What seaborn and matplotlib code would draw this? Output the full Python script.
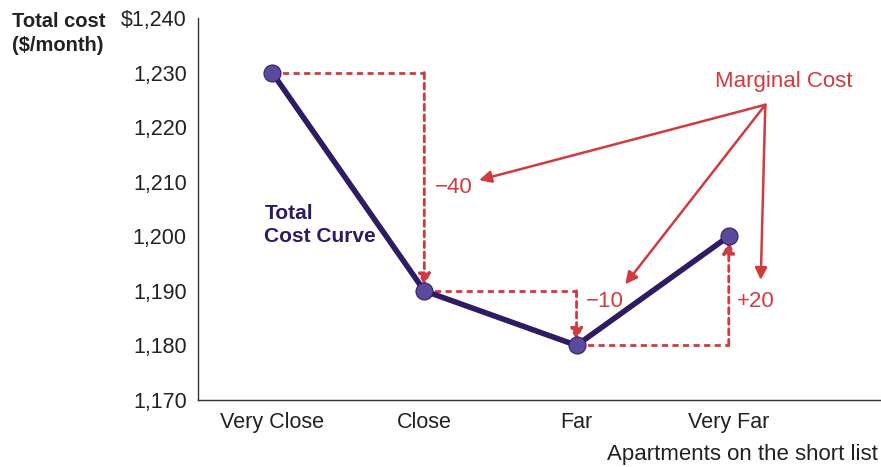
import pandas as pd
import matplotlib.pyplot as plt
import seaborn as sns

# data
locations = ["Very Close", "Close", "Far", "Very Far"]
total_cost = [1230, 1190, 1180, 1200]
marginal_labels = ["\u221240", "\u221210", "+20"]

df = pd.DataFrame({"loc": locations, "cost": total_cost})
df["x"] = range(len(df))

sns.set_style("white")
plt.rcParams["font.family"] = ["Liberation Sans", "DejaVu Sans"]

red = "#d23a40"
purple = "#2f1b63"
fs = 15.5

fig = plt.figure(figsize=(8.81, 4.67), dpi=100)
ax = fig.add_axes([0.2247, 0.1435, 0.7753, 0.818])

# dashed step lines (marginal cost)
for i in range(len(total_cost) - 1):
    x0, x1 = df["x"][i], df["x"][i + 1]
    y0, y1 = total_cost[i], total_cost[i + 1]
    ax.plot([x0, x1], [y0, y0], color=red, ls=(0, (2.2, 1.6)), lw=2.0, zorder=1)
    ax.annotate("", xy=(x1, y1 + (0.9 if y1 < y0 else -0.9)), xytext=(x1, y0),
                arrowprops=dict(arrowstyle="-|>", color=red, lw=2.0,
                                linestyle=(0, (2.2, 1.6)), mutation_scale=18,
                                shrinkA=0, shrinkB=0), zorder=1)

# total cost curve
sns.lineplot(data=df, x="x", y="cost", color=purple, lw=4, ax=ax, zorder=3)
ax.scatter(df["x"], df["cost"], s=150, color="#5a4a9c", edgecolor="#34206a",
           linewidth=0.8, zorder=4)

# labels for marginal values
ax.text(1.07, 1209, marginal_labels[0], color=red, fontsize=16, va="center", ha="left")
ax.text(2.06, 1188, marginal_labels[1], color=red, fontsize=16, va="center", ha="left")
ax.text(3.05, 1188, marginal_labels[2], color=red, fontsize=16, va="center", ha="left")

# Marginal Cost callout
ax.text(3.36, 1228.3, "Marginal Cost", color=red, fontsize=16, ha="center", va="center")
origin = (3.24, 1224.1)
for tgt in [(1.36, 1210.3), (2.32, 1191.2), (3.21, 1192.0)]:
    ax.annotate("", xy=tgt, xytext=origin,
                arrowprops=dict(arrowstyle="-|>", color=red, lw=1.8,
                                mutation_scale=18, shrinkA=0, shrinkB=0))

ax.text(-0.05, 1202, "Total\nCost Curve", color=purple, fontsize=15,
        fontweight="bold", ha="left", va="center", linespacing=1.25)

ax.set_xlim(-0.487, 4.0)
ax.set_ylim(1170, 1240)
ax.set_xticks(df["x"])
ax.set_xticklabels(locations)
yt = list(range(1170, 1241, 10))
ax.set_yticks(yt)
ax.set_yticklabels([f"{v:,}" if v < 1240 else f"${v:,}" for v in yt])
ax.set_xlabel("")
ax.set_ylabel("")

sns.despine(ax=ax)
for s in ["left", "bottom"]:
    ax.spines[s].set_color("#333333")
    ax.spines[s].set_linewidth(1.0)
ax.tick_params(direction="in", length=6, width=1, color="#333333",
               labelsize=fs, labelcolor="#222222", pad=9)
ax.tick_params(axis="y", pad=8)

fig.text(0.014, 0.975, "Total cost\n($/month)", fontsize=14.5, fontweight="bold",
         ha="left", va="top", color="#222222", linespacing=1.35)
fig.text(0.997, 0.026, "Apartments on the short list", fontsize=16,
         ha="right", va="center", color="#222222")

plt.savefig("out.png", dpi=100)
